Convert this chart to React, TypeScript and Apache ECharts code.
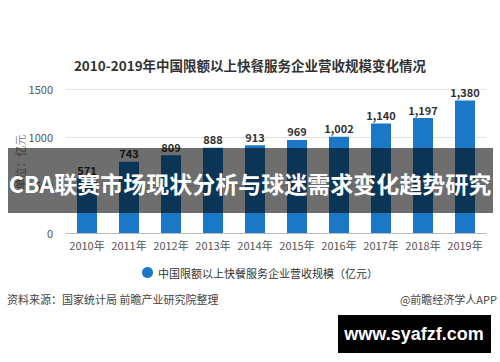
import React, { useEffect, useRef } from "react";
import * as echarts from "echarts";

const years = ["2010年", "2011年", "2012年", "2013年", "2014年", "2015年", "2016年", "2017年", "2018年", "2019年"];
const revenue = [571, 743, 809, 888, 913, 969, 1002, 1140, 1197, 1380];
const yTicks = [0, 500, 1000, 1500];
const seriesName = "中国限额以上快餐服务企业营收规模（亿元）";
const titleText = "2010-2019年中国限额以上快餐服务企业营收规模变化情况";
const bannerText = "CBA联赛市场现状分析与球迷需求变化趋势研究";
const sourceText = "资料来源：国家统计局 前瞻产业研究院整理";
const creditText = "@前瞻经济学人APP";
const siteText = "www.syafzf.com";
const unitText = "单位：亿元";

const FONT = "'Noto Sans CJK SC', 'Noto Sans', sans-serif";

export default function App() {
  const ref = useRef<HTMLDivElement>(null);
  useEffect(() => {
    if (!ref.current) return;
    const chart = echarts.init(ref.current, undefined, { renderer: "svg" });
    chart.setOption({
      animation: false,
      backgroundColor: "#ffffff",
      textStyle: { fontFamily: FONT },
      title: {
        text: titleText,
        left: "center",
        top: 53,
        textStyle: { fontSize: 13.5, fontWeight: "bold", color: "#333", fontFamily: FONT },
      },
      grid: { left: 66, right: 14, top: 89, bottom: 129, containLabel: false },
      legend: {
        data: [{ name: seriesName, icon: "circle" }],
        bottom: 79,
        left: 137,
        itemWidth: 11,
        itemHeight: 11,
        itemGap: 6,
        textStyle: { fontSize: 11, color: "#333", fontFamily: FONT },
      },
      xAxis: {
        type: "category",
        data: years,
        axisLine: { lineStyle: { color: "#bbbbbb" } },
        axisTick: { show: false },
        axisLabel: { color: "#555", fontSize: 11, margin: 6, interval: 0, fontFamily: FONT },
      },
      yAxis: {
        type: "value",
        min: yTicks[0],
        max: yTicks[yTicks.length - 1],
        interval: yTicks[1] - yTicks[0],
        axisLine: { show: false },
        axisTick: { show: false },
        axisLabel: {
          color: "#555",
          fontSize: 11,
          margin: 13,
          fontFamily: FONT,
          formatter: (v: number) => String(v),
        },
        splitLine: { lineStyle: { color: "#e2e2e2" } },
      },
      series: [
        {
          name: seriesName,
          type: "bar",
          data: revenue,
          barWidth: 20,
          itemStyle: { color: "#1a78c6" },
          label: {
            show: true,
            position: "top",
            distance: 3,
            color: "#333",
            fontSize: 11,
            fontWeight: "bold",
            fontFamily: FONT,
            formatter: (p: any) => Number(p.value).toLocaleString("en-US"),
          },
        },
      ],
      graphic: [
        {
          type: "text",
          x: 20,
          y: 162,
          rotation: Math.PI / 2,
          style: {
            text: unitText,
            fill: "#888",
            fontSize: 11,
            fontFamily: FONT,
            align: "center",
            verticalAlign: "middle",
          },
        },
        {
          type: "rect",
          shape: { x: 8, y: 148, width: 485, height: 65 },
          style: { fill: "rgba(0,0,0,0.57)" },
          z: 100,
        },
        {
          type: "text",
          x: 250,
          y: 183,
          z: 101,
          style: {
            text: bannerText,
            fill: "#ffffff",
            fontSize: 23,
            fontWeight: "bold",
            fontFamily: FONT,
            align: "center",
            verticalAlign: "middle",
          },
        },
        {
          type: "text",
          x: 7,
          y: 299,
          style: {
            text: sourceText,
            fill: "#444",
            fontSize: 11,
            fontFamily: FONT,
            align: "left",
            verticalAlign: "middle",
          },
        },
        {
          type: "text",
          x: 497,
          y: 299,
          style: {
            text: creditText,
            fill: "#444",
            fontSize: 11,
            fontFamily: FONT,
            align: "right",
            verticalAlign: "middle",
          },
        },
        {
          type: "rect",
          shape: { x: 338, y: 315, width: 153, height: 38 },
          style: { fill: "#000000" },
        },
        {
          type: "text",
          x: 414,
          y: 334,
          style: {
            text: siteText,
            fill: "#ffffff",
            fontSize: 18,
            fontWeight: "bold",
            fontFamily: "'Liberation Sans', Arial, sans-serif",
            align: "center",
            verticalAlign: "middle",
          },
        },
      ],
    });
    return () => chart.dispose();
  }, []);
  return <div ref={ref} style={{ width: 500, height: 362, position: "absolute", left: 0, top: 0 }} />;
}
